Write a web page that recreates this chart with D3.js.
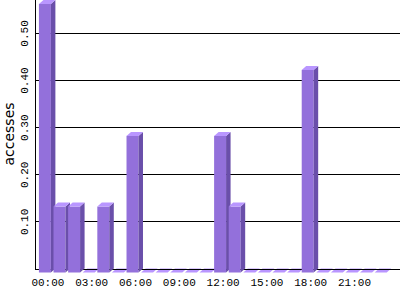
<!DOCTYPE html>
<html>
<head>
<meta charset="utf-8">
<script src="https://cdn.jsdelivr.net/npm/d3@7"></script>
<style>
  body { margin: 0; background: #fff; }
  svg { display: block; }
</style>
</head>
<body>
<div id="chart"></div>
<script>
// hourly access data
var hours = ["00:00", "01:00", "02:00", "03:00", "04:00", "05:00", "06:00", "07:00",
    "08:00", "09:00", "10:00", "11:00", "12:00", "13:00", "14:00", "15:00",
    "16:00", "17:00", "18:00", "19:00", "20:00", "21:00", "22:00", "23:00"];
var accesses = [0.57, 0.14, 0.14, 0, 0.14, 0, 0.29, 0, 0, 0, 0, 0,
    0.29, 0.14, 0, 0, 0, 0, 0.43, 0, 0, 0, 0, 0];
var yTicks = [0.1, 0.2, 0.3, 0.4, 0.5];
var xTickLabels = ["00:00", "03:00", "06:00", "09:00", "12:00", "15:00", "18:00", "21:00"];

var svgWidth = 400;
var svgHeight = 300;
var left = 36, right = 400, zeroY = 268.5;
var dx = 4.5, dy = 4;   // depth of the 3d bars

var data = hours.map(function(h, i) { return { hour: h, value: accesses[i] }; });

var svg = d3.select("#chart")
    .append("svg")
    .attr("width", svgWidth)
    .attr("height", svgHeight);

var xScale = d3.scaleBand()
    .domain(hours)
    .range([left, 389.6])
    .paddingInner(0.18)
    .paddingOuter(0.2);

var yScale = d3.scaleLinear()
    .domain([0, d3.max(accesses)])
    .range([zeroY, 0]);

// gridlines + y labels
var yAxis = d3.axisLeft(yScale)
    .tickValues(yTicks)
    .tickSize(-(right - left))
    .tickSizeOuter(0)
    .tickFormat(d3.format(".2f"));

var yAxisGroup = svg.append("g")
    .attr("transform", `translate(${left}, 0)`)
    .call(yAxis);

yAxisGroup.select(".domain").remove();
yAxisGroup.selectAll(".tick line")
    .attr("stroke", "#000")
    .attr("shape-rendering", "crispEdges");
yAxisGroup.selectAll(".tick text")
    .attr("x", null)
    .attr("dy", null)
    .attr("text-anchor", "middle")
    .attr("transform", "translate(-8.5, 0) rotate(-90)")
    .style("font-family", "Liberation Mono")
    .style("font-size", "11px")
    .attr("fill", "#000");

function drawBar(g, d) {
    var x = xScale(d.hour);
    var w = xScale.bandwidth();
    var yTop = yScale(d.value) + dy;
    var yBot = zeroY + dy;
    if (d.value > 0) {
        g.append("rect")
            .attr("x", x)
            .attr("y", yTop)
            .attr("width", w)
            .attr("height", yBot - yTop)
            .attr("fill", "#9370DB");
        g.append("polygon")
            .attr("points", [[x + w, yTop], [x + w + dx, yTop - dy], [x + w + dx, yBot - dy], [x + w, yBot]].join(" "))
            .attr("fill", "#6A4FAA");
    }
    g.append("polygon")
        .attr("points", [[x, yTop], [x + dx, yTop - dy], [x + w + dx, yTop - dy], [x + w, yTop]].join(" "))
        .attr("fill", "#B996FF");
}

// flat (zero) bars go under the axis line
var zeroBars = svg.append("g");
data.filter(d => d.value === 0).forEach(d => drawBar(zeroBars, d));

// axis lines
svg.append("line")
    .attr("x1", left).attr("x2", right)
    .attr("y1", zeroY + 1).attr("y2", zeroY + 1)
    .attr("stroke", "#000")
    .attr("shape-rendering", "crispEdges");
svg.append("line")
    .attr("x1", left - 0.5).attr("x2", left - 0.5)
    .attr("y1", 0).attr("y2", zeroY + 1)
    .attr("stroke", "#000")
    .attr("shape-rendering", "crispEdges");

var bars = svg.append("g");
data.filter(d => d.value > 0).forEach(d => drawBar(bars, d));

// x labels
svg.append("g")
    .selectAll("text")
    .data(xTickLabels)
    .enter()
    .append("text")
    .attr("x", d => xScale(d) + xScale.bandwidth() / 2 + 3)
    .attr("y", 285.5)
    .attr("text-anchor", "middle")
    .style("font-family", "Liberation Mono")
    .style("font-size", "11px")
    .text(d => d);

// axis title
svg.append("text")
    .attr("transform", "translate(14, 134) rotate(-90)")
    .attr("text-anchor", "middle")
    .style("font-family", "DejaVu Sans")
    .style("font-size", "14px")
    .text("accesses");
</script>
</body>
</html>
